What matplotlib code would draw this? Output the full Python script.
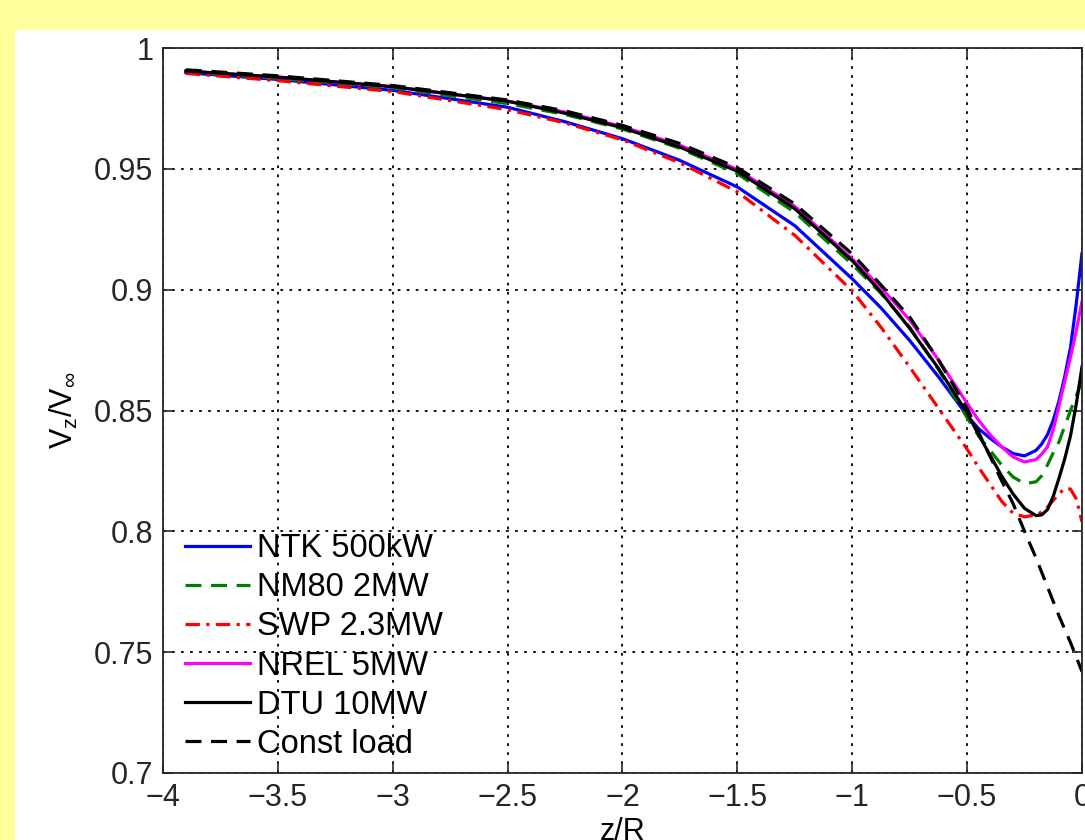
import matplotlib
matplotlib.use("Agg")
import matplotlib.pyplot as plt
from matplotlib.patches import Rectangle

plt.rcParams["font.family"] = ["Liberation Sans", "DejaVu Sans"]
plt.rcParams["mathtext.fontset"] = "custom"
plt.rcParams["mathtext.rm"] = "Liberation Sans"
plt.rcParams["mathtext.it"] = "Liberation Sans"

# values (z/R, Vz/Vinf)
z = [-3.9, -3.5, -3.0, -2.5, -2.25, -2.0, -1.75, -1.5, -1.25, -1.0, -0.875, -0.75, -0.625,
     -0.5, -0.45, -0.4, -0.35, -0.3, -0.25, -0.2, -0.175, -0.15, -0.125, -0.1, -0.075,
     -0.05, -0.025, 0.0]

v_ntk = [0.9898, 0.987, 0.9825, 0.9755, 0.9695, 0.9625, 0.9535, 0.9425, 0.9265, 0.9045,
         0.8925, 0.879, 0.864, 0.848, 0.8425, 0.8385, 0.835, 0.8322, 0.8312, 0.8335,
         0.8362, 0.840, 0.846, 0.854, 0.864, 0.876, 0.894, 0.915]

v_nm80 = [0.990, 0.9875, 0.9835, 0.977, 0.9725, 0.9665, 0.9585, 0.948, 0.932, 0.9105,
          0.8985, 0.8845, 0.867, 0.847, 0.8395, 0.8335, 0.8275, 0.8225, 0.8197, 0.8205,
          0.823, 0.8275, 0.8325, 0.837, 0.8435, 0.850, 0.856, 0.862]

v_swp = [0.9895, 0.9865, 0.982, 0.9745, 0.969, 0.962, 0.9525, 0.9405, 0.9225, 0.8995,
         0.8845, 0.868, 0.851, 0.834, 0.8265, 0.8195, 0.8125, 0.8075, 0.806, 0.8068,
         0.808, 0.810, 0.8128, 0.8155, 0.8178, 0.8175, 0.8135, 0.804]

v_nrel = [0.9905, 0.988, 0.984, 0.978, 0.9735, 0.9675, 0.9598, 0.9498, 0.9345, 0.9127,
          0.901, 0.8875, 0.871, 0.853, 0.846, 0.840, 0.835, 0.8308, 0.8287, 0.8297,
          0.832, 0.835, 0.842, 0.852, 0.862, 0.872, 0.883, 0.895]

v_dtu = [0.9905, 0.988, 0.984, 0.978, 0.973, 0.967, 0.959, 0.949, 0.9335, 0.912,
         0.899, 0.884, 0.8675, 0.849, 0.840, 0.8315, 0.823, 0.8155, 0.8095, 0.8065,
         0.8068, 0.809, 0.8145, 0.822, 0.830, 0.8395, 0.8525, 0.868]

v_const = [0.991, 0.9885, 0.9845, 0.9785, 0.974, 0.968, 0.9605, 0.9505, 0.9355, 0.9148,
           0.902, 0.8887, 0.871, 0.851, 0.841, 0.831, 0.821, 0.8115, 0.800, 0.789,
           0.783, 0.777, 0.771, 0.765, 0.7595, 0.754, 0.748, 0.742]

labels = ["NTK 500kW", "NM80 2MW", "SWP 2.3MW", "NREL 5MW", "DTU 10MW", "Const load"]

fig = plt.figure(figsize=(10.85, 8.4), dpi=100, facecolor="#FFFF9C")
panel = Rectangle((15 / 1085, 0), 1, 810 / 840, transform=fig.transFigure,
                  facecolor="white", edgecolor="none", zorder=-10)
fig.add_artist(panel)

ax = fig.add_axes([0.1502, 0.0798, 0.847, 0.863], zorder=1)
lw = 2.3
dash = (0, (5, 3))
ax.plot(z, v_ntk, color="#0000FF", lw=lw, label=labels[0])
ax.plot(z, v_nm80, color="#008000", lw=lw, ls=dash, label=labels[1])
ax.plot(z, v_swp, color="#FF0000", lw=lw, ls=(0, (4.5, 2, 1, 2)), label=labels[2])
ax.plot(z, v_nrel, color="#FF00FF", lw=lw, label=labels[3])
ax.plot(z, v_dtu, color="black", lw=lw, label=labels[4])
ax.plot(z, v_const, color="black", lw=lw, ls=dash, label=labels[5])

ax.set_xlim(-4, 0)
ax.set_ylim(0.7, 1)
ax.set_xticks([-4, -3.5, -3, -2.5, -2, -1.5, -1, -0.5, 0])
ax.set_xticklabels(["\u22124", "\u22123.5", "\u22123", "\u22122.5", "\u22122", "\u22121.5",
                    "\u22121", "\u22120.5", "0"])
ax.set_yticks([0.7, 0.75, 0.8, 0.85, 0.9, 0.95, 1])
ax.set_yticklabels(["0.7", "0.75", "0.8", "0.85", "0.9", "0.95", "1"])
ax.tick_params(direction="in", length=7, width=1.2, top=True, right=True,
               labelsize=22, pad=7, colors="#262626")
ax.grid(True, color="black", ls=(0, (1.5, 3.5)), lw=1.3)
for s in ax.spines.values():
    s.set_linewidth(1.3)
    s.set_color("#262626")

ax.set_xlabel("z/R", fontsize=22, labelpad=3)
ax.set_ylabel(r"V$_z$/V$_\infty$", fontsize=22, labelpad=10)

ax.legend(loc="lower left", bbox_to_anchor=(0.024, 0.018), frameon=False, fontsize=23.5,
          borderpad=0, borderaxespad=0, labelspacing=0.25, handlelength=2.0,
          handletextpad=0.21)

fig.savefig("out.png", dpi=100, facecolor=fig.get_facecolor())
